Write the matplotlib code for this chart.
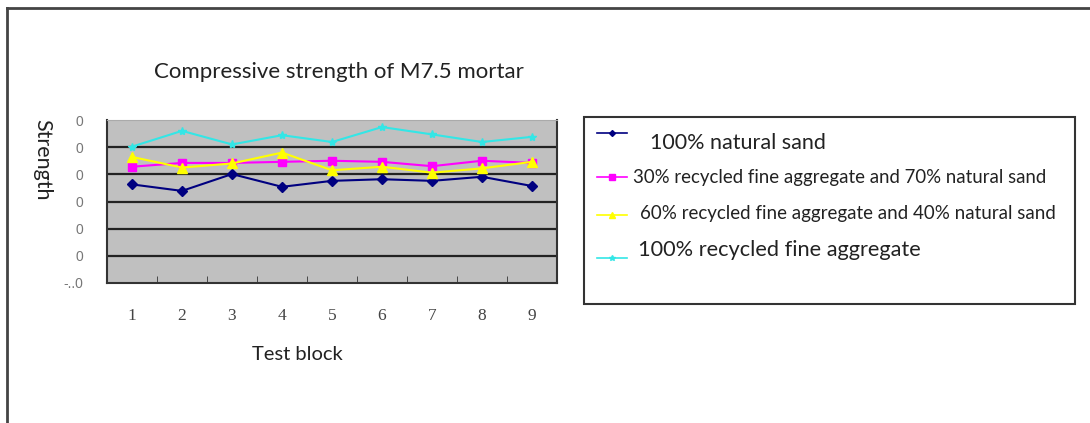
import matplotlib
matplotlib.use("Agg")
import matplotlib.pyplot as plt
from matplotlib.lines import Line2D
from matplotlib.patches import Rectangle

# данные
blocks = [1, 2, 3, 4, 5, 6, 7, 8, 9]
natural_100 = [3.63, 3.39, 4.01, 3.54, 3.76, 3.82, 3.76, 3.91, 3.57]
recycled_30 = [4.28, 4.42, 4.42, 4.46, 4.50, 4.46, 4.30, 4.50, 4.42]
recycled_60 = [4.64, 4.25, 4.40, 4.80, 4.15, 4.28, 4.06, 4.22, 4.46]
recycled_100 = [5.02, 5.60, 5.10, 5.44, 5.19, 5.74, 5.47, 5.19, 5.38]
y_ticks = [0, 1, 2, 3, 4, 5, 6]
y_tick_labels = ["-..0", "0", "0", "0", "0", "0", "0"]
labels = ["100% natural sand",
          "30% recycled fine aggregate and 70% natural sand",
          "60% recycled fine aggregate and 40% natural sand",
          "100% recycled fine aggregate"]

series = [natural_100, recycled_30, recycled_60, recycled_100]
colors = ["#000080", "#FF00FF", "#FFFF00", "#33E6E6"]
markers = ["D", "s", "^", "*"]
msizes = [5, 6, 7, 6]

fig = plt.figure(figsize=(10.9, 4.23), dpi=100)
fig.patch.set_facecolor("white")

# внешняя рамка
fig.add_artist(Line2D([7 / 1090, 7 / 1090], [0, 1 - 8 / 423], transform=fig.transFigure,
                      color="#444444", lw=2))
fig.add_artist(Line2D([7 / 1090, 1], [1 - 8 / 423, 1 - 8 / 423], transform=fig.transFigure,
                      color="#444444", lw=2))

ax = fig.add_axes([107 / 1090, 1 - 283 / 423, 450 / 1090, 163 / 423])
ax.set_facecolor("#C0C0C0")

for vals, c, m, ms in zip(series, colors, markers, msizes):
    ax.plot(blocks, vals, color=c, marker=m, markersize=ms, lw=1.5,
            markeredgecolor=c, zorder=3)

ax.set_xlim(0.5, 9.5)
ax.set_ylim(0, 6)
ax.set_yticks(y_ticks)
ax.set_yticklabels(y_tick_labels, color="#777777", fontsize=10, family="Liberation Sans")
ax.set_xticks(blocks)
ax.set_xticklabels([str(b) for b in blocks], color="#444444", fontsize=12.5,
                   family="Liberation Serif")
ax.set_xticks([b + 0.5 for b in blocks[:-1]], minor=True)
ax.tick_params(axis="x", which="major", length=0, pad=18)
ax.tick_params(axis="x", which="minor", length=5, direction="in", color="#333333")
ax.tick_params(axis="y", length=0, pad=17)
for y in y_ticks[1:-1]:
    ax.axhline(y, color="#222222", lw=1.6, zorder=1)
for s in ["left", "bottom", "right"]:
    ax.spines[s].set_color("#333333")
    ax.spines[s].set_linewidth(1.5)
ax.spines["top"].set_color("#AAAAAA")

fig.text(339 / 1090, 1 - 72 / 423, "Compressive strength of M7.5 mortar", fontsize=16,
         family="Lato", color="#222222", ha="center", va="center")
fig.text(297 / 1090, 1 - 354 / 423, "Test block", fontsize=14.5, family="Lato",
         color="#222222", ha="center", va="center")
fig.text(42 / 1090, 1 - 160 / 423, "Strength", rotation=270, fontsize=15.5, family="Lato",
         color="#222222", ha="center", va="center")

# легенда
fig.add_artist(Rectangle((584 / 1090, 1 - 304 / 423), 491 / 1090, 187 / 423,
                         transform=fig.transFigure, facecolor="white",
                         edgecolor="#333333", lw=1.5))
handle_y = [133, 177, 215, 258]
text_pos = [(650, 143, 15.5), (633, 178, 13.4), (640, 213, 13.5), (638, 250, 15.7)]
for (c, m, ms), hy, (tx, ty, fs), lab in zip(zip(colors, markers, msizes), handle_y,
                                            text_pos, labels):
    fig.add_artist(Line2D([597 / 1090, 627 / 1090], [1 - hy / 423, 1 - hy / 423],
                          transform=fig.transFigure, color=c, lw=1.2))
    fig.add_artist(Line2D([612 / 1090], [1 - hy / 423], transform=fig.transFigure,
                          color=c, marker=m, markersize=ms - 2, markeredgecolor=c))
    fig.text(tx / 1090, 1 - ty / 423, lab, fontsize=fs, family="Lato", color="#222222",
             ha="left", va="center")

fig.savefig("out.png", dpi=100)
